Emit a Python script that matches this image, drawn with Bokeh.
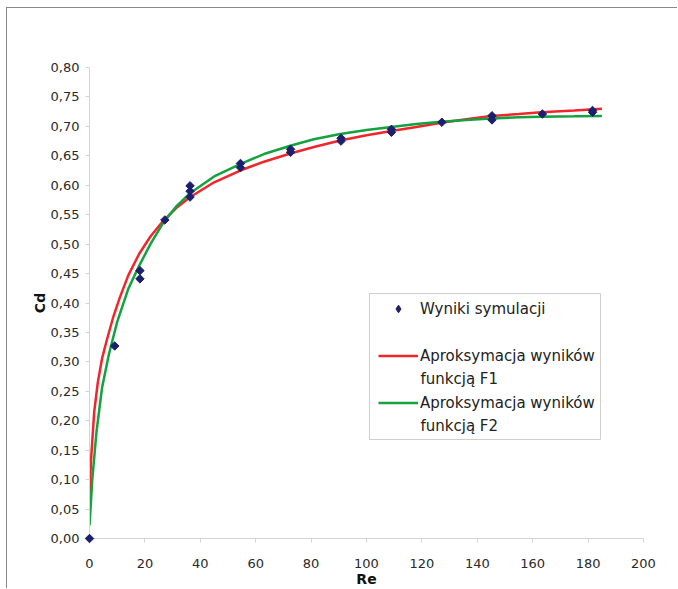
import math
import numpy as np
from bokeh.plotting import figure
from bokeh.models import (Range1d, FixedTicker, CustomJSTickFormatter, Legend,
                          LegendItem, Label, BoxAnnotation)
from bokeh.embed import file_html
from bokeh.resources import INLINE

# ---- data ----
sim_re = [0.0, 9.1, 18.2, 18.2, 27.2, 36.3, 36.3, 36.3, 54.5, 54.5, 72.6, 72.6,
          90.8, 90.8, 109.0, 109.0, 127.2, 145.3, 145.3, 163.5, 181.6, 181.6]
sim_cd = [0.000, 0.327, 0.455, 0.441, 0.541, 0.599, 0.590, 0.580, 0.637, 0.630, 0.661, 0.656,
          0.680, 0.675, 0.695, 0.690, 0.707, 0.718, 0.711, 0.721, 0.727, 0.724]

f1_re = [0.0, 0.5, 1.7, 3.0, 4.5, 6.3, 8.5, 11.0, 14.0, 18.0, 22.0, 26.7, 31.5, 36.4,
         45.0, 54.4, 63.0, 72.5, 81.0, 90.5, 100.0, 109.0, 118.0, 127.0, 136.0, 145.0,
         155.0, 163.0, 175.0, 185.0]
f1_cd = [0.056, 0.130, 0.215, 0.265, 0.305, 0.338, 0.375, 0.410, 0.447, 0.484, 0.513, 0.540,
         0.562, 0.580, 0.605, 0.625, 0.640, 0.654, 0.665, 0.676, 0.685, 0.692, 0.699, 0.706,
         0.712, 0.7175, 0.721, 0.724, 0.727, 0.730]

f2_re = [0.0, 1.0, 2.5, 4.5, 7.0, 10.0, 14.0, 18.0, 22.0, 26.7, 31.5, 36.4, 45.0, 54.4, 63.0,
         72.5, 81.0, 90.5, 100.0, 109.0, 118.0, 127.0, 136.0, 145.0, 155.0, 163.0, 175.0, 185.0]
f2_cd = [0.022, 0.100, 0.180, 0.255, 0.313, 0.368, 0.424, 0.464, 0.500, 0.537, 0.565, 0.587,
         0.615, 0.636, 0.653, 0.667, 0.678, 0.687, 0.694, 0.699, 0.704, 0.708, 0.711, 0.7135,
         0.7155, 0.7165, 0.717, 0.7175]

x_ticks = [0, 20, 40, 60, 80, 100, 120, 140, 160, 180, 200]
y_ticks = [0.00, 0.05, 0.10, 0.15, 0.20, 0.25, 0.30, 0.35, 0.40, 0.45, 0.50, 0.55,
           0.60, 0.65, 0.70, 0.75, 0.80]
legend_labels = ["Wyniki symulacji", "Aproksymacja wyników", "Aproksymacja wyników"]
legend_second = ["funkcją F1", "funkcją F2"]
x_title = "Re"
y_title = "Cd"

FONT = "DejaVu Sans"
AXIS_GRAY = "#d4d4d4"
NAVY = "#1c1f6e"

p = figure(width=671, height=581, output_backend="svg", toolbar_location=None,
           x_range=Range1d(0, 200), y_range=Range1d(0, 0.8),
           min_border_left=82, min_border_right=35, min_border_top=59, min_border_bottom=51,
           background_fill_color="white", border_fill_color="white")
p.styles = {"margin-left": "6px", "margin-top": "7px",
            "border-top": "1px solid #8a8a8a", "border-left": "1px solid #8a8a8a"}
p.outline_line_color = None
p.xgrid.visible = False
p.ygrid.visible = False

r_f1 = p.line(f1_re, f1_cd, line_color="#f0262a", line_width=2.5)
r_f2 = p.line(f2_re, f2_cd, line_color="#14a13f", line_width=2.5)
r_sim = p.scatter(sim_re, sim_cd, marker="square", size=6, angle=math.pi / 4,
                  fill_color=NAVY, line_color=NAVY, line_width=1, level="overlay")
# legend key for the simulation points: a diamond with no drawable position
r_sim_key = p.scatter(x=np.array([np.nan]), y=np.array([np.nan]), marker="diamond", size=10,
                      fill_color=NAVY, line_color=NAVY, line_width=1)

for ax, ticks in ((p.xaxis[0], x_ticks), (p.yaxis[0], y_ticks)):
    ax.ticker = FixedTicker(ticks=ticks)
    ax.axis_line_color = AXIS_GRAY
    ax.major_tick_line_color = AXIS_GRAY
    ax.major_tick_out = 4
    ax.major_tick_in = 0
    ax.minor_tick_line_color = None
    ax.major_label_text_font = FONT
    ax.major_label_text_font_size = "13px"
    ax.major_label_text_color = "#2a2a2a"
    ax.axis_label_text_font = FONT
    ax.axis_label_text_font_size = "14px"
    ax.axis_label_text_font_style = "bold"
    ax.axis_label_text_color = "#111111"

p.xaxis[0].axis_label = x_title
p.xaxis[0].major_label_standoff = 16
p.xaxis[0].axis_label_standoff = 0
p.yaxis[0].axis_label = y_title
p.yaxis[0].major_label_standoff = 6
p.yaxis[0].axis_label_standoff = 0
p.yaxis[0].formatter = CustomJSTickFormatter(code="return tick.toFixed(2).replace('.', ',');")

# legend box
box = BoxAnnotation(left=280, right=511, top=245, bottom=99,
                    left_units="screen", right_units="screen",
                    top_units="screen", bottom_units="screen",
                    fill_color="white", fill_alpha=1.0,
                    line_color="#cfcfcf", line_width=1, line_alpha=1.0)
p.add_layout(box)

legend = Legend(items=[LegendItem(label=legend_labels[0], renderers=[r_sim_key]),
                       LegendItem(label=legend_labels[1], renderers=[r_f1]),
                       LegendItem(label=legend_labels[2], renderers=[r_f2])],
                location=(289, 126), padding=0, margin=0, spacing=28,
                glyph_width=40, glyph_height=19, label_height=19, label_standoff=2,
                border_line_color=None, background_fill_alpha=0,
                label_text_font=FONT, label_text_font_size="15px",
                label_text_color="#222222")
p.add_layout(legend)

for txt, yy in zip(legend_second, (160, 113)):
    p.add_layout(Label(x=331, y=yy, x_units="screen", y_units="screen", text=txt,
                       text_baseline="middle", text_align="left", text_font=FONT,
                       text_font_size="15px", text_color="#222222"))

open("out.html", "w").write(file_html(p, INLINE))
